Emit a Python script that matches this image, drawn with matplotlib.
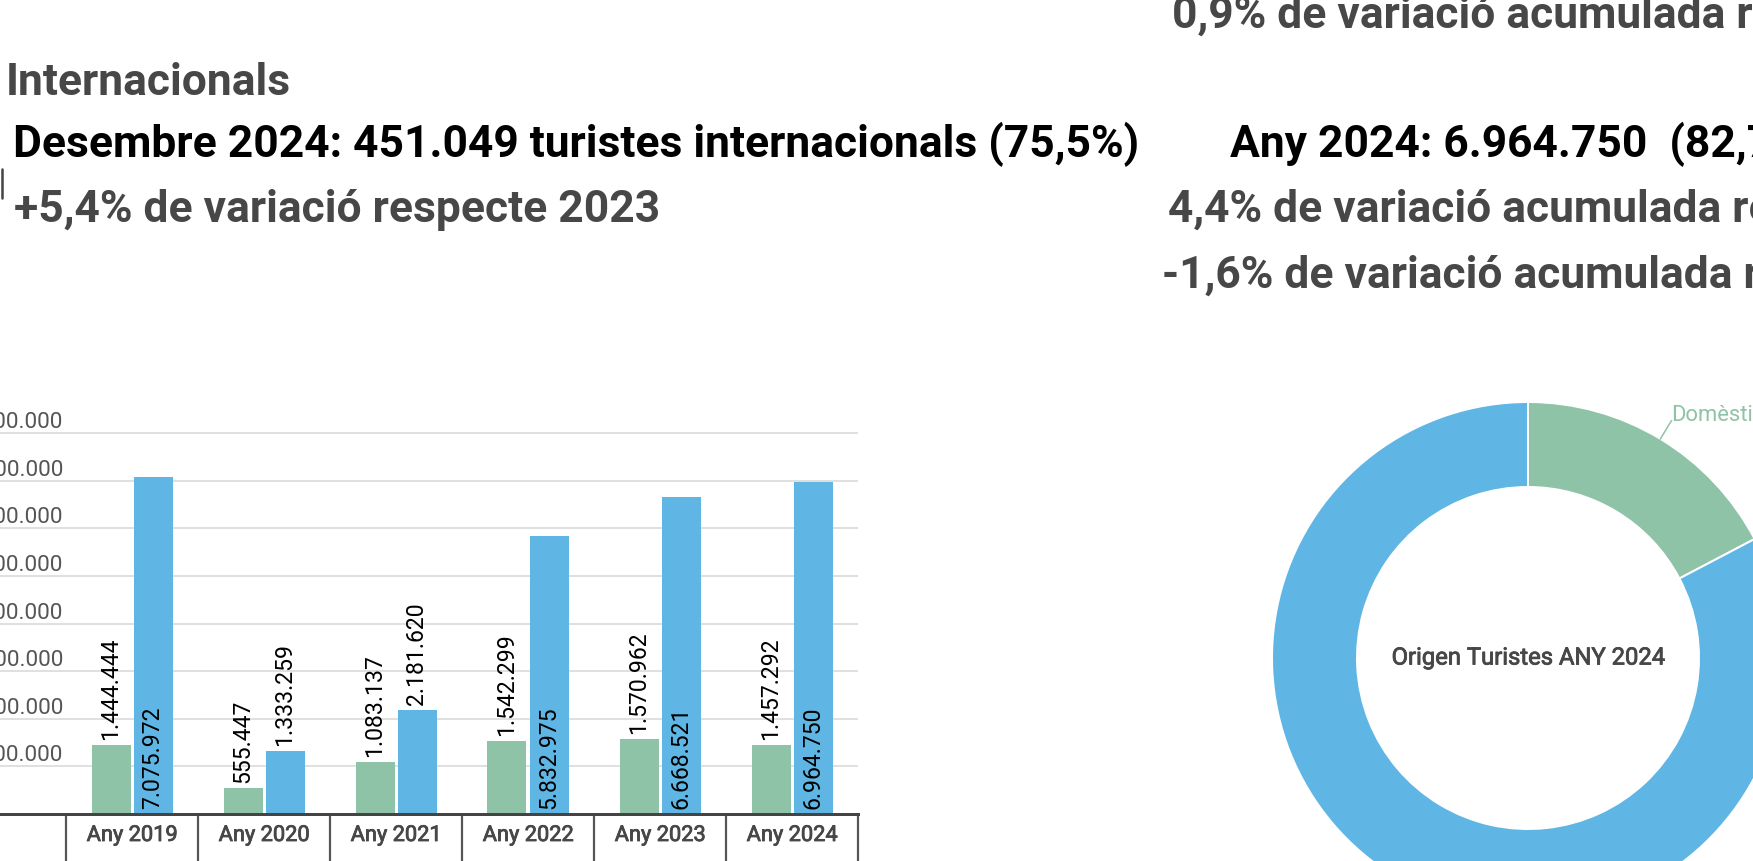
import numpy as np
import matplotlib
matplotlib.use('Agg')
import matplotlib.pyplot as plt
import matplotlib.transforms as mtrans
import matplotlib.patheffects as pe
from matplotlib.lines import Line2D

plt.rcParams['font.family'] = ['Roboto', 'DejaVu Sans']

W, H, DPI = 1753, 862, 100

years = ['Any 2019', 'Any 2020', 'Any 2021', 'Any 2022', 'Any 2023', 'Any 2024']
domestics = [1444444, 555447, 1083137, 1542299, 1570962, 1457292]
internacionals = [7075972, 1333259, 2181620, 5832975, 6668521, 6964750]
y_ticks = [1000000, 2000000, 3000000, 4000000, 5000000, 6000000, 7000000, 8000000]

pie_labels = ['Domèstics', 'Internacionals']
pie_values = [1457292, 6964750]

green = '#8fc3a7'
blue = '#5fb6e4'
grey_txt = '#474747'


def fmt(v):
    return f'{v:,}'.replace(',', '.')


def px(v):
    # pixels -> points
    return v * 72.0 / DPI


# fake "medium" weight
medium = [pe.withStroke(linewidth=0.6, foreground=grey_txt)]

fig = plt.figure(figsize=(W / DPI, H / DPI), dpi=DPI)

# header texts (positions in pixels from the top left)
def head(x, y, s, color):
    fig.text(x / W, 1 - y / H, s, fontsize=px(44.4), fontweight='bold', color=color,
             ha='left', va='baseline')

head(6, 95, 'Internacionals', grey_txt)
head(13, 157, 'Desembre 2024: 451.049 turistes internacionals (75,5%)', 'black')
head(14, 222, '+5,4% de variació respecte 2023', grey_txt)
head(1172, 28, '0,9% de variació acumulada respecte 2019', grey_txt)
head(1230, 157, 'Any 2024: 6.964.750  (82,7%)', 'black')
head(1168, 222, '4,4% de variació acumulada respecte 2023', grey_txt)
head(1162, 288, '-1,6% de variació acumulada respecte 2019', grey_txt)

# small frame edge on the left border
fig.add_artist(Line2D([1.5 / W, 1.5 / W], [1 - 170 / H, 1 - 199 / H], color='#444444',
                      linewidth=px(2.5), solid_capstyle='round'))

#########################################
# bar chart
ax_l, ax_r = 0, 858
ax_b = H - 815
ymax = 8500000
ax_h = 47.6 * ymax / 1e6
ax = fig.add_axes([ax_l / W, ax_b / H, (ax_r - ax_l) / W, ax_h / H])

x = np.arange(len(years))
bw = 39 / 132.0
off = 21 / 132.0
ax.bar(x - off, domestics, bw, color=green, zorder=3)
ax.bar(x + off, internacionals, bw, color=blue, zorder=3)

ax.set_xlim(-1, 5.5)
ax.set_ylim(0, ymax)
ax.set_yticks(y_ticks)
ax.yaxis.grid(True, color='#d9d9d9', linewidth=px(1.6), zorder=0)
ax.tick_params(axis='y', length=0, labelleft=False)

for side in ['top', 'right', 'left']:
    ax.spines[side].set_visible(False)
ax.spines['bottom'].set_color('#444444')
ax.spines['bottom'].set_linewidth(px(3))
ax.spines['bottom'].set_zorder(4)

ax.set_xticks(x)
ax.set_xticklabels(years, fontsize=px(21.8), color=grey_txt)
ax.set_xticks(np.arange(-0.5, len(years)), minor=True)
ax.tick_params(axis='x', which='major', length=0, pad=px(21.5))
for lab in ax.get_xticklabels():
    lab.set_va('center')
    lab.set_path_effects(medium)
ax.tick_params(axis='x', which='minor', length=px(50), width=px(2.2), color='#555555')

# y tick labels sit above the grid lines, inside the plot
lab_tr = mtrans.offset_copy(mtrans.blended_transform_factory(ax.transAxes, ax.transData),
                            fig=fig, x=0, y=px(6), units='points')
for t in y_ticks:
    ax.text(63 / (ax_r - ax_l), t, fmt(t), transform=lab_tr, ha='right', va='baseline',
            fontsize=px(22.5), color='#555555')

# data labels
up_tr = mtrans.offset_copy(ax.transData, fig=fig, x=0, y=px(6), units='points')
for i in range(len(years)):
    ax.text(x[i] - off, domestics[i], fmt(domestics[i]), transform=up_tr, rotation=90,
            ha='center', va='bottom', fontsize=px(23), color='black', zorder=5)
    v = internacionals[i]
    if v > 3000000:
        yv = 0
    else:
        yv = v
    ax.text(x[i] + off, yv, fmt(v), transform=up_tr, rotation=90,
            ha='center', va='bottom', fontsize=px(23), color='black', zorder=5)

#########################################
# donut
cx, cy, R = 1528, H - 659, 256
pax = fig.add_axes([(cx - R) / W, (cy - R) / H, 2 * R / W, 2 * R / H])
wedges, _ = pax.pie(pie_values, colors=[green, blue], startangle=90, counterclock=False,
                    radius=1, wedgeprops=dict(width=85 / 256.0, edgecolor='white',
                                              linewidth=px(2)))
pax.set_xlim(-1, 1)
pax.set_ylim(-1, 1)
pax.set_aspect('auto')
pax.axis('off')

pax.text(0, 0, 'Origen Turistes ANY 2024', ha='center', va='center',
         fontsize=px(23.8), color=grey_txt, path_effects=medium)

w = wedges[0]
ang = np.deg2rad((w.theta1 + w.theta2) / 2)
r0, r1 = 1.0, 1.083
pax.plot([r0 * np.cos(ang), r1 * np.cos(ang)], [r0 * np.sin(ang), r1 * np.sin(ang)],
         color=green, linewidth=px(1.5), clip_on=False)
lbl_tr = mtrans.offset_copy(pax.transData, fig=fig, x=0, y=px(6), units='points')
pax.text(r1 * np.cos(ang), r1 * np.sin(ang), pie_labels[0], transform=lbl_tr,
         ha='left', va='center', fontsize=px(22), color=green)

fig.savefig('out.png', dpi=DPI)
